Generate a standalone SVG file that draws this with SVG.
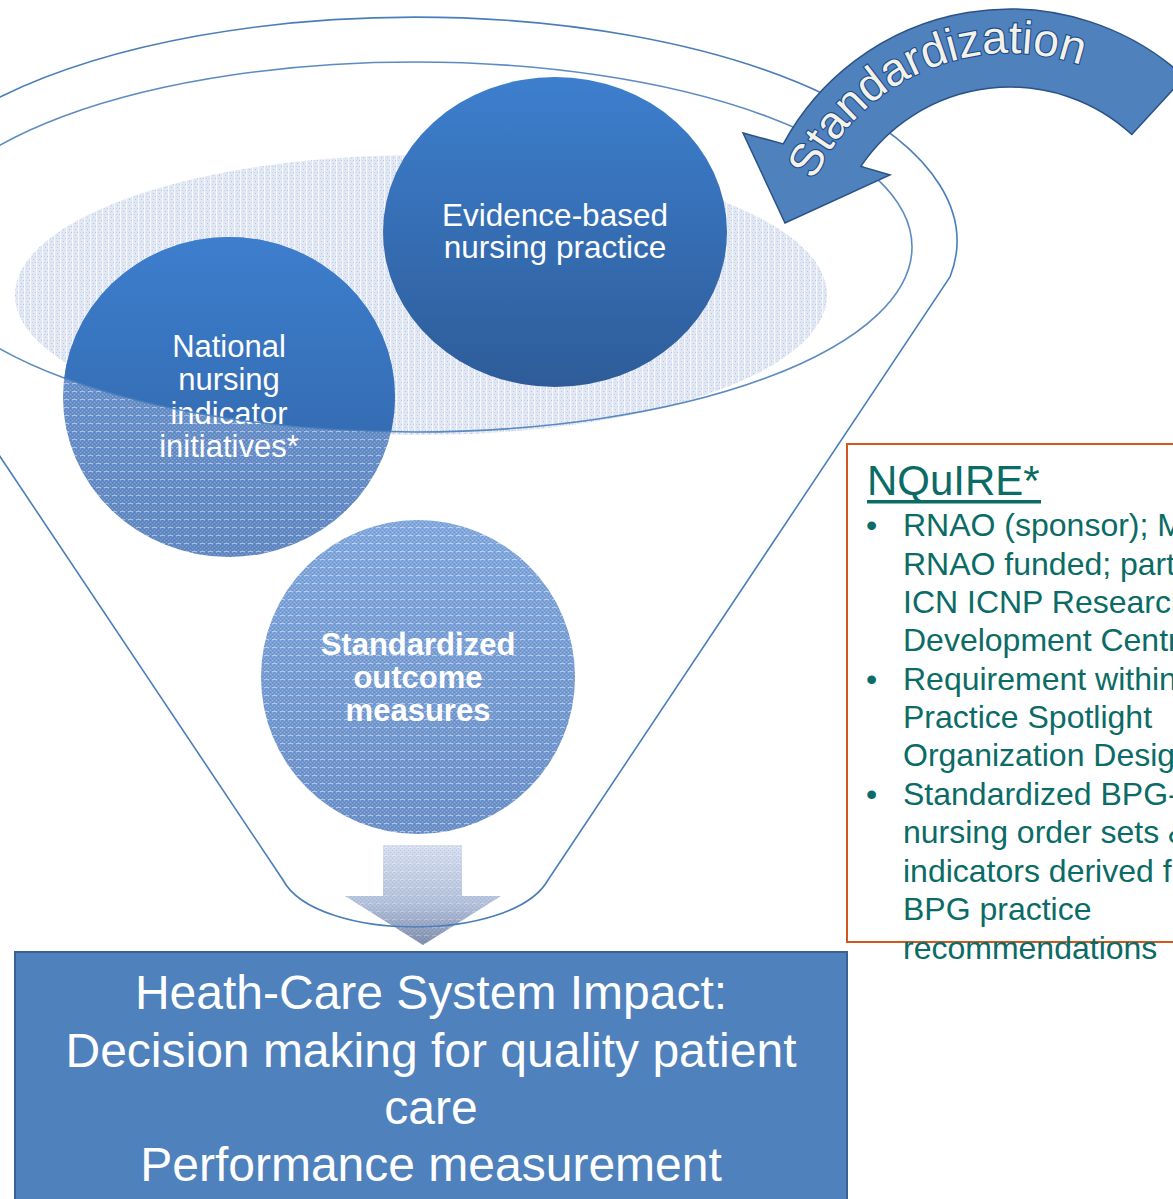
<svg xmlns="http://www.w3.org/2000/svg" width="1173" height="1199" viewBox="0 0 1173 1199">
<style>
.rim{fill:none;stroke:#4a7ebb;stroke-width:1.6}
.wt{font-family:"Liberation Sans",Arial,sans-serif;fill:#ffffff;text-anchor:middle}
.nq{font-family:"Liberation Sans",Arial,sans-serif;fill:#0b6b66;font-size:32px}
</style>
<defs>
<linearGradient id="gEv" x1="0" y1="0" x2="0" y2="1">
<stop offset="0" stop-color="#3d7fce"/><stop offset="1" stop-color="#2e5c99"/>
</linearGradient>
<linearGradient id="gNat" x1="0" y1="0" x2="0" y2="1">
<stop offset="0" stop-color="#3d7ecd"/><stop offset="1" stop-color="#2f62a4"/>
</linearGradient>
<linearGradient id="gNatLow" x1="0" y1="0" x2="0" y2="1">
<stop offset="0" stop-color="#6f98d0"/><stop offset="1" stop-color="#6288c2"/>
</linearGradient>
<linearGradient id="gStd" x1="0" y1="0" x2="0" y2="1">
<stop offset="0" stop-color="#82a9dd"/><stop offset="1" stop-color="#6c90c8"/>
</linearGradient>
<linearGradient id="gDown" x1="0" y1="0" x2="0" y2="1">
<stop offset="0" stop-color="#d6def0"/><stop offset="0.6" stop-color="#b4c0da"/><stop offset="1" stop-color="#7d8caa"/>
</linearGradient>
<pattern id="tex" width="8" height="8" patternUnits="userSpaceOnUse">
<g fill="#ffffff" opacity="0.25">
<rect x="0" y="0" width="1" height="1"/><rect x="4" y="0" width="1" height="1"/><rect x="2" y="2" width="1" height="1"/><rect x="6" y="2" width="1" height="1"/>
<rect x="0" y="4" width="1" height="1"/><rect x="4" y="4" width="1" height="1"/><rect x="2" y="6" width="1" height="1"/><rect x="6" y="6" width="1" height="1"/>
</g>
<g fill="#2a5aa0" opacity="0.25">
<rect x="2" y="0" width="1" height="1"/><rect x="6" y="0" width="1" height="1"/><rect x="0" y="2" width="1" height="1"/><rect x="4" y="2" width="1" height="1"/>
<rect x="2" y="4" width="1" height="1"/><rect x="6" y="4" width="1" height="1"/><rect x="0" y="6" width="1" height="1"/><rect x="4" y="6" width="1" height="1"/>
</g>
<rect x="0" y="7" width="5" height="1" fill="#ffffff" opacity="0.45"/>
</pattern>
<pattern id="texLight" width="6" height="6" patternUnits="userSpaceOnUse">
<rect width="6" height="6" fill="#e1e7f3"/>
<rect x="0" y="0" width="1" height="6" fill="#ffffff" opacity="0.7"/>
<rect x="3" y="1" width="1" height="1" fill="#b7c4df"/><rect x="5" y="4" width="1" height="1" fill="#b7c4df"/><rect x="2" y="4" width="1" height="1" fill="#c7d1e7"/>
</pattern>
<clipPath id="inner"><ellipse cx="415" cy="247" rx="497" ry="185"/></clipPath>
<path id="arcText" d="M 796 267 A 214 214 0 0 1 1173.9 129.4"/>
</defs>

<g id="surface">
<ellipse cx="421" cy="295" rx="406" ry="140" fill="url(#texLight)"/>
</g>

<g id="node-standardized">
<circle cx="418" cy="677" r="157" fill="url(#gStd)"/>
<circle cx="418" cy="677" r="157" fill="url(#tex)"/>
<text class="wt" font-size="31" font-weight="bold"><tspan x="418" y="655">Standardized</tspan><tspan x="418" y="688">outcome</tspan><tspan x="418" y="721">measures</tspan></text>
</g>

<g id="down-arrow">
<path d="M383 845 H462 V896 H501 L423 945 L345 896 H383 Z" fill="url(#gDown)"/>
<path d="M383 845 H462 V896 H501 L423 945 L345 896 H383 Z" fill="url(#tex)" opacity="0.6"/>
</g>

<g id="connectors">
<path class="rim" d="M -120 277 A 542 224 0 1 1 950 277 L 548 880 C 530 912 470 927 415 927 C 360 927 300 912 283 880 Z"/>
</g>

<g id="node-national">
<ellipse cx="229" cy="397" rx="166" ry="160" fill="url(#gNatLow)"/>
<ellipse cx="229" cy="397" rx="166" ry="160" fill="url(#tex)"/>
<ellipse cx="229" cy="397" rx="166" ry="160" fill="url(#gNat)" clip-path="url(#inner)"/>
<text class="wt" font-size="31"><tspan x="229" y="357">National</tspan><tspan x="229" y="390">nursing</tspan><tspan x="229" y="424">indicator</tspan><tspan x="229" y="457">initiatives*</tspan></text>
</g>

<g id="node-evidence">
<ellipse cx="555" cy="232" rx="172" ry="155" fill="url(#gEv)"/>
<text class="wt" font-size="31.5"><tspan x="555" y="226">Evidence-based</tspan><tspan x="555" y="258">nursing practice</tspan></text>
</g>

<g id="inner-rim">
<ellipse class="rim" cx="415" cy="247" rx="497" ry="185" opacity="0.9"/>
</g>

<g id="node-impact">
<rect x="15" y="952" width="832" height="270" fill="#4f81bd" stroke="#3a6194" stroke-width="2"/>
<text class="wt" font-size="48"><tspan x="431" y="1009">Heath-Care System Impact:</tspan><tspan x="431" y="1067">Decision making for quality patient</tspan><tspan x="431" y="1124">care</tspan><tspan x="431" y="1181">Performance measurement</tspan></text>
</g>

<g id="node-nquire">
<rect x="847" y="444" width="360" height="498" fill="none" stroke="#d0581c" stroke-width="2"/>
<text x="867" y="495" font-family="Liberation Sans, Arial, sans-serif" font-size="42" fill="#0b6b66">NQuIRE*</text>
<rect x="867" y="500" width="174" height="3.5" fill="#0b6b66"/>
<g class="nq">
<text x="866" y="536">•</text>
<text x="903" y="536">RNAO (sponsor); M</text>
<text x="903" y="575">RNAO funded; part</text>
<text x="903" y="613">ICN ICNP Research</text>
<text x="903" y="651">Development Centr</text>
<text x="866" y="690">•</text>
<text x="903" y="690">Requirement within</text>
<text x="903" y="728">Practice Spotlight</text>
<text x="903" y="766">Organization Desig</text>
<text x="866" y="805">•</text>
<text x="903" y="805">Standardized BPG-</text>
<text x="903" y="843">nursing order sets &amp;</text>
<text x="903" y="882">indicators derived fr</text>
<text x="903" y="920">BPG practice</text>
<text x="903" y="959">recommendations</text>
</g>
</g>

<g id="node-standardization-arrow">
<path d="M 1184.6 77.1 A 258 258 0 0 0 783.3 143.9 L 743 133 L 785 223 L 890 175 L 860.8 166.4 A 180 180 0 0 1 1131.8 134.5 Z" fill="#4f81bd" stroke="#2b5287" stroke-width="1.5"/>
<text font-family="Liberation Sans, Arial, sans-serif" font-size="46" fill="#f4f1e6" stroke="#1a4a8c" stroke-width="2.2" paint-order="stroke" text-anchor="middle"><textPath href="#arcText" startOffset="47.6%">Standardization</textPath></text>
</g>
</svg>
